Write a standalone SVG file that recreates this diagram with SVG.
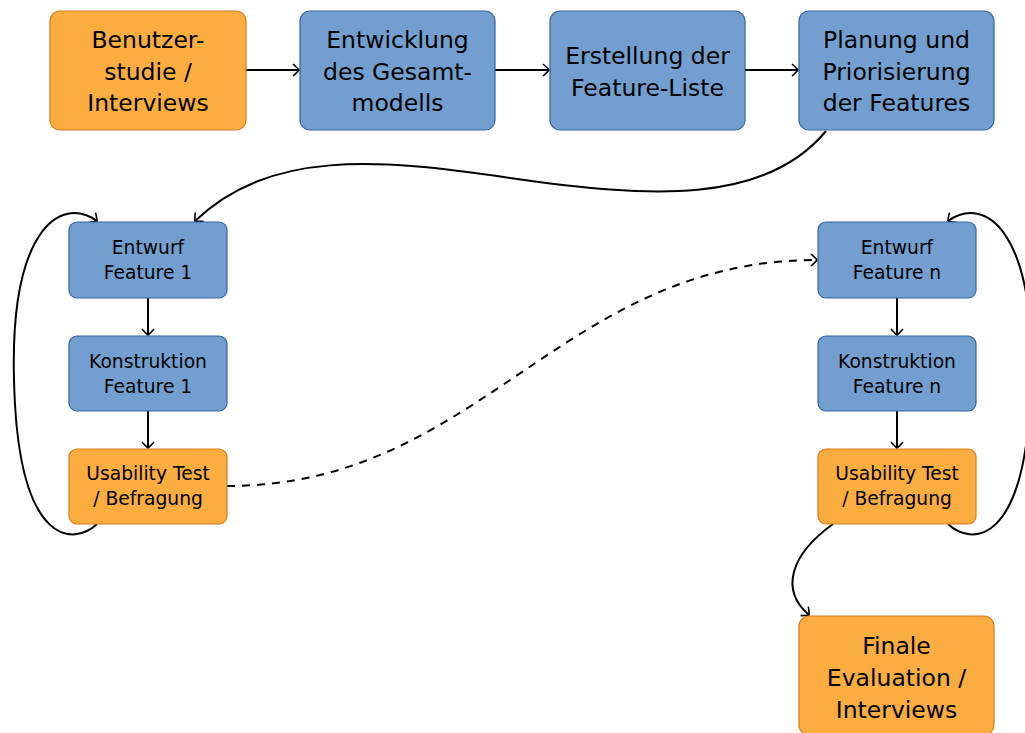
<svg xmlns="http://www.w3.org/2000/svg" width="1025" height="733" viewBox="0 0 1025 733">
<style>
.or{fill:#fbad3f;stroke:#dc7a1c;stroke-width:1.2}
.bl{fill:#729fcf;stroke:#3465a4;stroke-width:1.2}
.big{font-family:"DejaVu Sans",sans-serif;font-size:23.5px;fill:#000;text-anchor:middle}
.sm{font-family:"DejaVu Sans",sans-serif;font-size:18.7px;fill:#000;text-anchor:middle}
.c{fill:none;stroke:#000;stroke-width:2;marker-end:url(#ah)}
.d{stroke-dasharray:8 7}
</style>
<defs>
<marker id="ah" viewBox="-7 -7 9 14" markerWidth="9" markerHeight="14" refX="0" refY="0" orient="auto" markerUnits="userSpaceOnUse">
<path d="M-6,-6 Q-1.2,-1.8 0,0 Q-1.2,1.8 -6,6" fill="none" stroke="#000" stroke-width="1.6"/>
</marker>
</defs>
<g id="connectors">
<path class="c" d="M246,70 L299,70"/>
<path class="c" d="M495,70 L549,70"/>
<path class="c" d="M745,70 L798,70"/>
<path class="c" d="M826,131 C765,205 650,198 510,178 C375,158 270,150 195,221"/>
<path class="c" d="M148,298 L148,335"/>
<path class="c" d="M148,411 L148,448"/>
<path class="c" d="M897,298 L897,335"/>
<path class="c" d="M897,411 L897,448"/>
<path class="c" d="M97,524 C75,545 18,550 14,380 C10,230 60,195 97,221"/>
<path class="c" d="M948,524 C970,545 1027,550 1031,380 C1035,230 985,195 948,221"/>
<path class="c d" d="M227,486 C480,486 560,260 817,260"/>
<path class="c" d="M833,524 C790,555 780,590 809,615"/>
</g>
<g id="n1"><rect class="or" x="50" y="11" width="196" height="119" rx="10"/>
<text class="big" x="148" y="48">Benutzer-</text><text class="big" x="148" y="79.5">studie /</text><text class="big" x="148" y="111">Interviews</text></g>
<g id="n2"><rect class="bl" x="300" y="11" width="195" height="119" rx="10"/>
<text class="big" x="397.5" y="48">Entwicklung</text><text class="big" x="397.5" y="79.5">des Gesamt-</text><text class="big" x="397.5" y="111">modells</text></g>
<g id="n3"><rect class="bl" x="550" y="11" width="195" height="119" rx="10"/>
<text class="big" x="647.5" y="64">Erstellung der</text><text class="big" x="647.5" y="95.5">Feature-Liste</text></g>
<g id="n4"><rect class="bl" x="799" y="11" width="195" height="119" rx="10"/>
<text class="big" x="896.5" y="48">Planung und</text><text class="big" x="896.5" y="79.5">Priorisierung</text><text class="big" x="896.5" y="111">der Features</text></g>
<g id="e1"><rect class="bl" x="69" y="222" width="158" height="76" rx="8"/>
<text class="sm" x="148" y="253.8">Entwurf</text><text class="sm" x="148" y="278.8">Feature 1</text></g>
<g id="k1"><rect class="bl" x="69" y="336" width="158" height="75" rx="8"/>
<text class="sm" x="148" y="367.8">Konstruktion</text><text class="sm" x="148" y="392.8">Feature 1</text></g>
<g id="u1"><rect class="or" x="69" y="449" width="158" height="75" rx="8"/>
<text class="sm" x="148" y="479.8">Usability Test</text><text class="sm" x="148" y="504.8">/ Befragung</text></g>
<g id="en"><rect class="bl" x="818" y="222" width="158" height="76" rx="8"/>
<text class="sm" x="897" y="253.8">Entwurf</text><text class="sm" x="897" y="278.8">Feature n</text></g>
<g id="kn"><rect class="bl" x="818" y="336" width="158" height="75" rx="8"/>
<text class="sm" x="897" y="367.8">Konstruktion</text><text class="sm" x="897" y="392.8">Feature n</text></g>
<g id="un"><rect class="or" x="818" y="449" width="158" height="75" rx="8"/>
<text class="sm" x="897" y="479.8">Usability Test</text><text class="sm" x="897" y="504.8">/ Befragung</text></g>
<g id="fin"><rect class="or" x="799" y="616" width="195" height="119" rx="10"/>
<text class="big" x="896.5" y="653.5">Finale</text><text class="big" x="896.5" y="685.5">Evaluation /</text><text class="big" x="896.5" y="717.5">Interviews</text></g>
</svg>
